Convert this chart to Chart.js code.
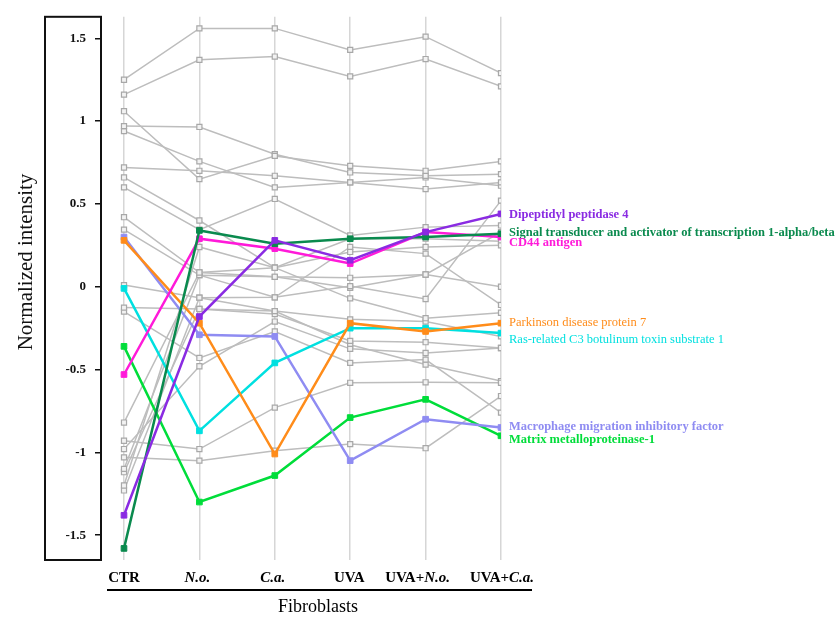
<!DOCTYPE html>
<html>
<head>
<meta charset="utf-8">
<script src="https://cdn.jsdelivr.net/npm/chart.js@4.4.0/dist/chart.umd.min.js"></script>
<style>
  html, body { margin: 0; padding: 0; background: #fff; overflow: hidden; }
  #wrap { position: relative; width: 836px; height: 617px; }
</style>
</head>
<body>
<div id="wrap"><canvas id="chart"></canvas></div>
<script>
// Treatment groups on the x axis (text, italic?) pieces
const GROUPS = ['CTR', 'N.o.', 'C.a.', 'UVA', 'UVA+N.o.', 'UVA+C.a.'];
const GROUP_PARTS = [
  [['CTR', false]],
  [['N.o.', true]],
  [['C.a.', true]],
  [['UVA', false]],
  [['UVA+', false], ['N.o.', true]],
  [['UVA+', false], ['C.a.', true]]
];
const Y_TICKS = [-1.5, -1, -0.5, 0, 0.5, 1, 1.5];

// Highlighted proteins (normalized intensity per group)
const dpp4 = [-1.38, -0.18, 0.28, 0.16, 0.33, 0.44];
const stat1 = [-1.58, 0.34, 0.26, 0.29, 0.30, 0.32];
const cd44 = [-0.53, 0.29, 0.23, 0.14, 0.33, 0.30];
const park7 = [0.28, -0.22, -1.01, -0.22, -0.27, -0.22];
const rac1 = [-0.01, -0.87, -0.46, -0.25, -0.25, -0.28];
const mif = [0.30, -0.29, -0.30, -1.05, -0.80, -0.85];
const mmp1 = [-0.36, -1.30, -1.14, -0.79, -0.68, -0.90];

const HIGHLIGHTS = [
  { name: 'Dipeptidyl peptidase 4', values: dpp4, color: '#8a2be2', bold: true },
  { name: 'Signal transducer and activator of transcription 1-alpha/beta', values: stat1, color: '#0a8a4e', bold: true },
  { name: 'CD44 antigen', values: cd44, color: '#ff1ad9', bold: true },
  { name: 'Parkinson disease protein 7', values: park7, color: '#ff8c1a', bold: false },
  { name: 'Ras-related C3 botulinum toxin substrate 1', values: rac1, color: '#00e0e0', bold: false },
  { name: 'Macrophage migration inhibitory factor', values: mif, color: '#8f8cf2', bold: true },
  { name: 'Matrix metalloproteinase-1', values: mmp1, color: '#00dd3a', bold: true }
];
// small vertical nudges so the end labels do not collide
const LABEL_SHIFT = [1, -1, 6, 0, 7, -1, 4];
const GROUP_NUDGE = [0, -2, -2, -1, -8, 1];

// Remaining proteins (drawn grey)
const greyProteins = [
  [1.25, 1.56, 1.56, 1.43, 1.51, 1.29],
  [1.16, 1.37, 1.39, 1.27, 1.375, 1.21],
  [1.06, 0.65, 0.79, 0.73, 0.70, 0.757],
  [0.97, 0.965, 0.80, 0.69, 0.67, 0.68],
  [0.94, 0.757, 0.60, 0.63, 0.59, 0.63],
  [0.72, 0.70, 0.67, 0.63, 0.66, 0.61],
  [0.66, 0.40, 0.115, -0.07, -0.19, -0.157],
  [0.60, 0.345, 0.53, 0.31, 0.36, 0.37],
  [0.42, 0.086, 0.06, 0.054, 0.074, 0.00],
  [0.345, 0.07, -0.064, 0.004, -0.074, 0.52],
  [0.01, -0.066, -0.147, -0.197, -0.21, -0.30],
  [-0.126, -0.134, -0.165, -0.327, -0.335, -0.37],
  [-0.15, -0.43, -0.27, -0.46, -0.44, -0.76],
  [-0.82, 0.086, 0.115, 0.21, 0.24, 0.25],
  [-0.93, -0.98, -0.73, -0.58, -0.577, -0.58],
  [-0.98, -0.48, -0.21, -0.375, -0.40, -0.37],
  [-1.03, -1.05, -0.99, -0.95, -0.975, -0.66],
  [-1.10, 0.07, 0.06, -0.006, 0.074, 0.33],
  [-1.20, 0.24, 0.115, 0.29, 0.29, 0.275],
  [-1.23, -0.066, -0.064, 0.24, 0.20, -0.11],
  [-1.12, -0.134, -0.147, -0.35, -0.47, -0.57]
];

const SERIF = '"Liberation Serif", "Times New Roman", serif';

function toPoints(values) {
  return values.map((v, i) => ({ x: i, y: v }));
}

// Build datasets: coloured ones on top of the grey ones
const datasets = [];
HIGHLIGHTS.forEach(h => {
  datasets.push({
    label: h.name,
    data: toPoints(h.values),
    borderColor: h.color,
    backgroundColor: h.color,
    borderWidth: 2.5,
    pointStyle: 'rect',
    pointRadius: 4,
    pointBorderWidth: 1,
    pointBackgroundColor: h.color,
    pointBorderColor: h.color,
    order: 1
  });
});
greyProteins.forEach((vals, k) => {
  datasets.push({
    label: 'protein ' + (k + 1),
    data: toPoints(vals),
    borderColor: '#bdbdbd',
    borderWidth: 1.5,
    pointStyle: 'rect',
    pointRadius: 3.6,
    pointBorderWidth: 1.2,
    pointBackgroundColor: '#f2f2f2',
    pointBorderColor: '#a8a8a8',
    order: 2
  });
});

// Box round the y axis, group labels, axis title and protein names
const decorations = {
  id: 'decorations',
  afterDraw(chart) {
    const { ctx, chartArea, scales } = chart;
    const xs = scales.x, ys = scales.y;
    ctx.save();

    // frame of the y axis
    ctx.strokeStyle = '#111';
    ctx.lineWidth = 2;
    ctx.strokeRect(45, chartArea.top, chartArea.left - 45, chartArea.bottom - chartArea.top);

    // y axis title
    ctx.save();
    ctx.translate(26, 262);
    ctx.rotate(-Math.PI / 2);
    ctx.font = '21px ' + SERIF;
    ctx.fillStyle = '#111';
    ctx.textAlign = 'center';
    ctx.textBaseline = 'middle';
    ctx.fillText('Normalized intensity', 0, 0);
    ctx.restore();

    // group labels under the plot
    ctx.textBaseline = 'middle';
    ctx.textAlign = 'left';
    ctx.fillStyle = '#000';
    const labelY = chartArea.bottom + 18;
    GROUP_PARTS.forEach((parts, i) => {
      const fonts = parts.map(p => (p[1] ? 'italic ' : '') + 'bold 15px ' + SERIF);
      const widths = parts.map((p, j) => {
        ctx.font = fonts[j];
        return ctx.measureText(p[0]).width;
      });
      const total = widths.reduce((a, b) => a + b, 0);
      let cx = xs.getPixelForValue(i) + GROUP_NUDGE[i] - total / 2;
      parts.forEach((p, j) => {
        ctx.font = fonts[j];
        ctx.fillText(p[0], cx, labelY);
        cx += widths[j];
      });
    });

    // rule and "Fibroblasts"
    ctx.strokeStyle = '#000';
    ctx.lineWidth = 2;
    ctx.beginPath();
    ctx.moveTo(107, chartArea.bottom + 30);
    ctx.lineTo(532, chartArea.bottom + 30);
    ctx.stroke();
    ctx.font = '18px ' + SERIF;
    ctx.textAlign = 'center';
    ctx.fillText('Fibroblasts', 318, chartArea.bottom + 47);

    // protein names at the right end of the lines
    ctx.textAlign = 'left';
    HIGHLIGHTS.forEach((h, k) => {
      const last = h.values[h.values.length - 1];
      ctx.font = (h.bold ? 'bold ' : '') + '12.5px ' + SERIF;
      ctx.fillStyle = h.color;
      ctx.fillText(h.name, chartArea.right + 8, ys.getPixelForValue(last) + LABEL_SHIFT[k]);
    });
    ctx.restore();
  }
};

new Chart(document.getElementById('chart'), {
  type: 'line',
  data: { datasets: datasets },
  options: {
    responsive: true,
    maintainAspectRatio: false,
    devicePixelRatio: 1,
    animation: false,
    events: [],
    layout: { padding: { left: 0, right: 335, top: 15, bottom: 0 } },
    elements: { line: { tension: 0 } },
    plugins: {
      legend: { display: false },
      tooltip: { enabled: false }
    },
    scales: {
      x: {
        type: 'linear',
        min: -0.305,
        max: 5,
        afterBuildTicks: s => { s.ticks = GROUPS.map((g, i) => ({ value: i })); },
        afterFit: s => { s.height = 57; },
        border: { display: false },
        grid: { color: '#d6d6d6', lineWidth: 1.5, drawTicks: false },
        ticks: { display: false }
      },
      y: {
        min: -1.65,
        max: 1.63,
        afterBuildTicks: s => { s.ticks = Y_TICKS.map(v => ({ value: v })); },
        afterFit: s => { s.width = 101; },
        border: { display: true, color: '#111', width: 2 },
        grid: { drawOnChartArea: false, drawTicks: true, tickLength: 6, color: '#111', lineWidth: 1.5 },
        ticks: {
          color: '#111',
          padding: 9,
          font: { family: SERIF, size: 13, weight: 'bold' },
          callback: v => String(v)
        }
      }
    }
  },
  plugins: [decorations]
});
</script>
</body>
</html>
